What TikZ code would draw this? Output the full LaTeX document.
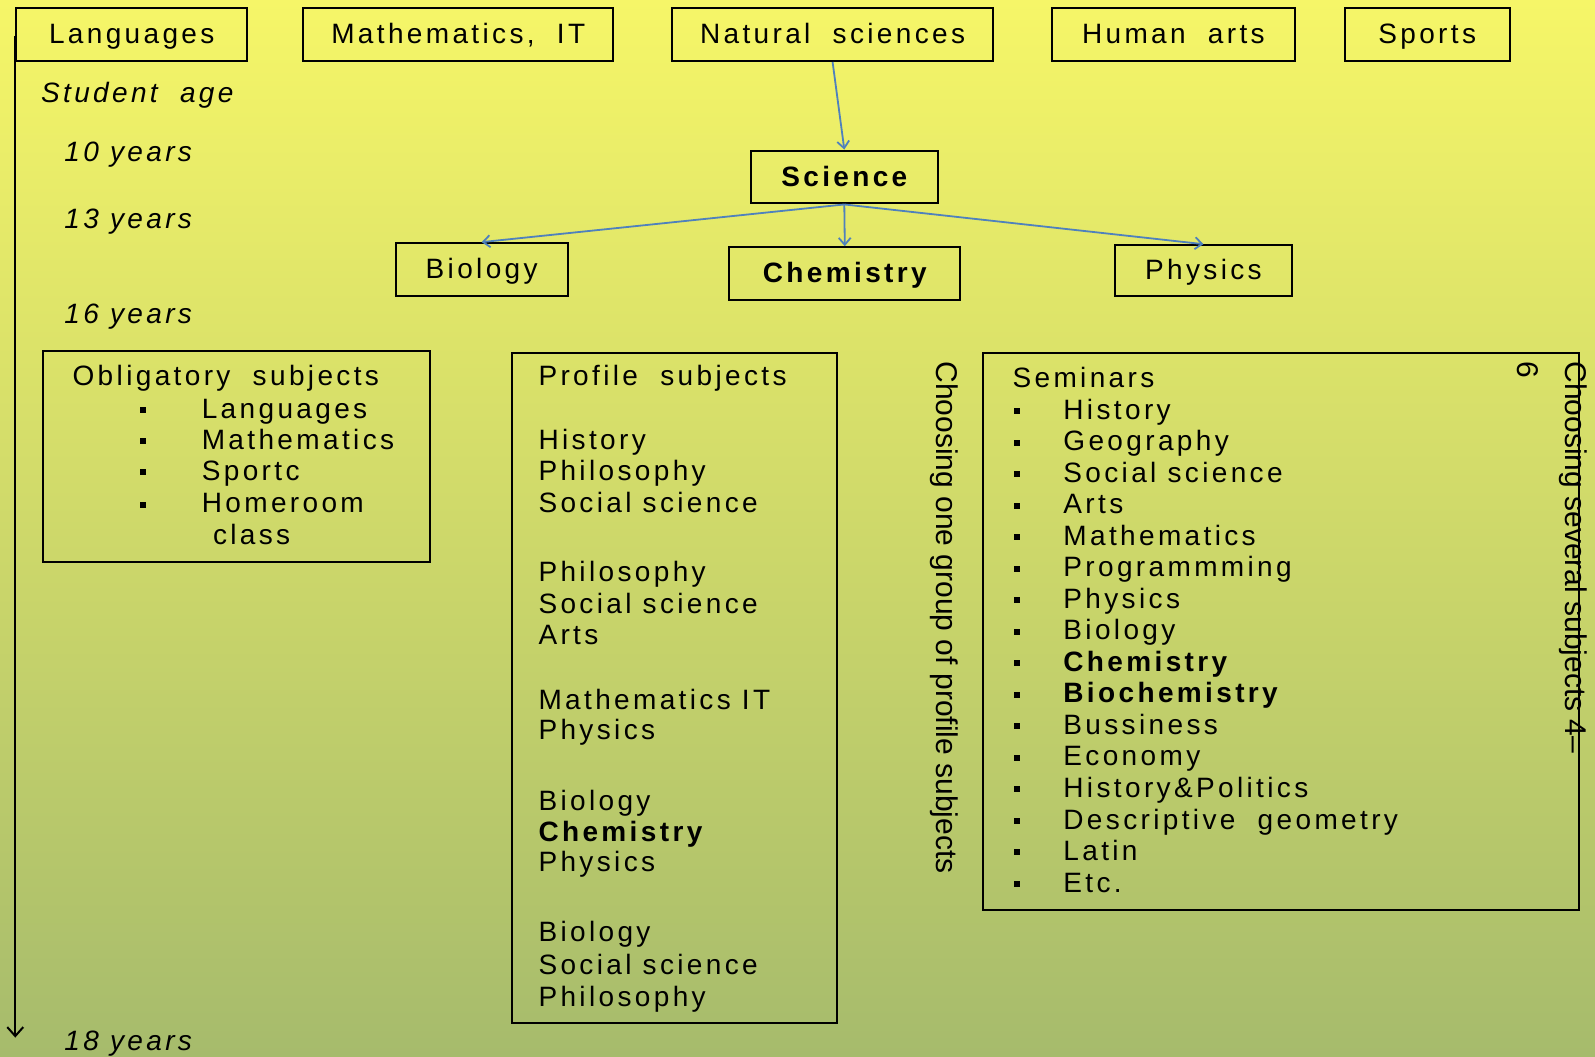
\documentclass[tikz,border=0pt]{standalone}
\usepackage{fontspec}
\setmainfont{Liberation Sans}[LetterSpace=12]
\usetikzlibrary{positioning,arrows.meta}

\definecolor{bgtop}{RGB}{246,246,104}
\definecolor{bgmid}{RGB}{222,226,106}
\definecolor{bgbot}{RGB}{166,187,108}
\definecolor{arrblue}{RGB}{79,129,189}

\tikzset{
  sz/.style 2 args={minimum width=#1*0.5086pt, minimum height=#2*0.5086pt},
  box/.style={draw, line width=1pt, inner sep=0pt, text height=11pt, text depth=2pt,
    font=\fontsize{14}{16}\selectfont},
  txt/.style={anchor=base west, inner sep=0pt, font=\fontsize{14}{16}\selectfont},
  age/.style={txt, font=\fontsize{14}{16}\selectfont\itshape},
  dot/.style={fill, inner sep=0pt, minimum size=3pt},
  rot/.style={rotate=-90, inner sep=0pt, font=\fontsize{15}{24}\selectfont\addfontfeature{LetterSpace=0}},
  link/.style={draw=arrblue, line width=0.9pt, -{Straight Barb[length=3.5pt,width=6pt]}}
}

\begin{document}
\begin{tikzpicture}[x=0.5086pt, y=-0.5086pt]
  \shade[top color=bgtop, middle color=bgmid, bottom color=bgbot] (0,0) rectangle (1568,1039);
  \useasboundingbox (0,0) rectangle (1568,1039);

  \node[box, sz={227}{52}] (lang) at (129.5,34) {Languages};
  \node[box, sz={305}{52}] (math) at (450.5,34) {Mathematics,\ \ IT};
  \node[box, sz={315}{52}] (nat) at (818.5,34) {Natural\ \ sciences};
  \node[box, sz={239}{52}] (hum) at (1153.5,34) {Human\ \ arts};
  \node[box, sz={162}{52}] (sport) at (1403,34) {Sports};

  \node[box, sz={184}{52}, font=\fontsize{14}{16}\selectfont\bfseries] (sci) at (830,174) {Science};
  \node[box, sz={169}{52}] (bio) at (473.5,265) {Biology};
  \node[box, sz={227}{52}, font=\fontsize{14}{16}\selectfont\bfseries] (chem) at (830.5,269) {Chemistry};
  \node[box, sz={174}{50}] (phys) at (1183,266) {Physics};

  \draw[link] (nat.south) -- (sci.north);
  \foreach \n in {bio,chem,phys}
    \draw[link] (sci.south) -- (\n.north);

  % time line
  \coordinate (tl0) at (15,35);
  \coordinate (tl1) at (15,1020);
  \draw[line width=1pt, -{Straight Barb[length=4.5pt,width=8pt]}] (tl0) -- (tl1);
  \node[age] (stage) at (40,101) {Student\ \ age};
  \foreach \y/\t in {159/10,225/13,318/16,1033/18}
    \node[age] (yr\t) at (63,\y) {\t\ years};

  % obligatory subjects
  \node[box, sz={381}{207}] (oblbox) at (232.5,448.5) {};
  \node[txt] (obl) at (71,379) {Obligatory\ \ subjects};
  \foreach \y/\t [count=\i] in {411/Languages,442/Mathematics,472/Sportc,504/Homeroom}{
    \node[dot] (obdot\i) at (141,\y-8) {};
    \node[txt] (ob\i) at (198,\y) {\t};
  }
  \node[txt] (obcl) at (209,535) {class};

  % profile subjects
  \node[box, sz={320}{659}] (profbox) at (663,676.5) {};
  \node[txt] (prof) at (529,379) {Profile\ \ subjects};
  \foreach \y/\t [count=\i] in {442/History,472/Philosophy,504/Social science,
      572/Philosophy,603/Social science,634/Arts,
      697/Mathematics IT,727/Physics,
      797/Biology,827/\textbf{Chemistry},857/Physics,
      926/Biology,958/Social science,989/Philosophy}
    \node[txt] (pr\i) at (529,\y) {\t};

  \node[rot, anchor=west] (grp) at (928,355) {Choosing one group of profile subjects};

  % seminars
  \node[box, sz={586}{548}] (sembox) at (1259,621) {};
  \node[txt] (sem) at (995,381) {Seminars};
  \foreach \t [count=\i] in {History,Geography,Social science,Arts,Mathematics,
      Programmming,Physics,Biology,\textbf{Chemistry},\textbf{Biochemistry},
      Bussiness,Economy,History\&Politics,Descriptive\ \ geometry,Latin,Etc.}{
    \node[dot] (sdot\i) at (1000,404+31*\i-31) {};
    \node[txt] (se\i) at (1045,412+31*\i-31) {\t};
  }

  \node[rot, anchor=north west, align=left] (sev) at (1561,355) {Choosing several subjects 4--\\6};
\end{tikzpicture}
\end{document}
